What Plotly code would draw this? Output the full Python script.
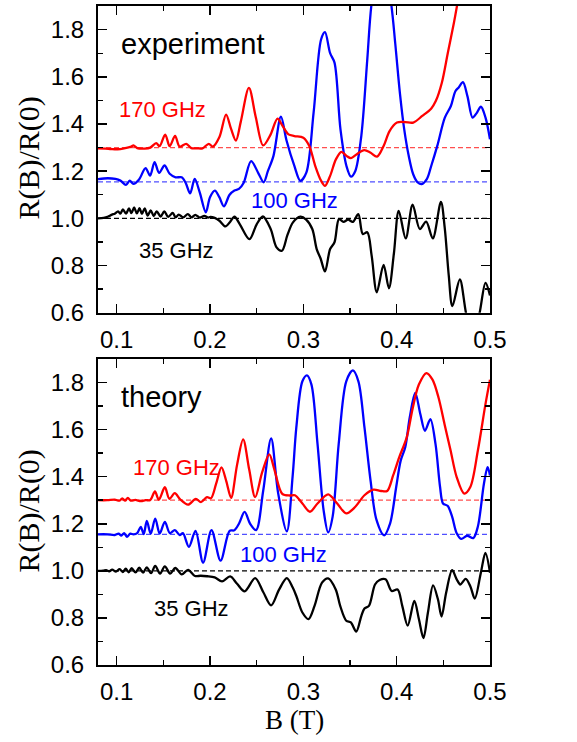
import plotly.graph_objects as go

# ---------------- data ----------------
# experiment, 170 GHz
exp170_b = [0.080,0.088,0.094,0.101,0.108,0.1156,0.118,0.122,0.130,0.136,0.1423,0.146,0.152,0.1568,0.1626,0.1675,0.1745,0.180,0.186,0.192,0.1987,0.203,0.2101,0.2172,0.2225,0.2278,0.233,0.2417,0.2490,0.2569,0.265,0.2723,0.2777,0.2841,0.2904,0.300,0.3064,0.3127,0.3191,0.3232,0.3287,0.335,0.3408,0.3462,0.351,0.3573,0.3653,0.3717,0.379,0.386,0.3924,0.4003,0.409,0.4178,0.4274,0.4369,0.4419,0.4484,0.4548,0.4613,0.4652,0.469]
exp170_r = [1.297,1.296,1.294,1.293,1.297,1.304,1.309,1.298,1.296,1.300,1.319,1.306,1.355,1.306,1.349,1.304,1.316,1.298,1.297,1.297,1.316,1.304,1.345,1.440,1.380,1.330,1.410,1.553,1.430,1.309,1.356,1.423,1.392,1.356,1.349,1.342,1.307,1.223,1.159,1.138,1.180,1.251,1.282,1.265,1.255,1.272,1.289,1.279,1.262,1.307,1.370,1.406,1.408,1.406,1.434,1.465,1.497,1.575,1.701,1.828,1.913,2.000]

# experiment, 100 GHz
exp100_b = [0.080,0.0906,0.0987,0.104,0.110,0.114,0.118,0.124,0.131,0.1358,0.1406,0.1455,0.1513,0.1568,0.1632,0.1697,0.174,0.1787,0.1836,0.189,0.1955,0.200,0.2052,0.210,0.2149,0.221,0.2262,0.231,0.236,0.244,0.252,0.2575,0.262,0.268,0.276,0.282,0.2904,0.2968,0.3032,0.311,0.319,0.3232,0.3287,0.3334,0.3398,0.3462,0.351,0.3557,0.3621,0.3685,0.3732,0.3834,0.394,0.3985,0.4035,0.4081,0.4129,0.4177,0.4226,0.4268,0.4323,0.4371,0.4435,0.4516,0.4581,0.4629,0.4665,0.471,0.4758,0.4813,0.4855,0.4903,0.4952,0.500]
exp100_r = [1.166,1.170,1.167,1.160,1.142,1.160,1.146,1.165,1.213,1.181,1.238,1.193,1.224,1.189,1.174,1.174,1.150,1.106,1.167,1.110,1.026,1.090,1.118,1.090,1.051,1.100,1.118,1.125,1.150,1.243,1.190,1.153,1.200,1.265,1.431,1.330,1.222,1.159,1.194,1.448,1.758,1.789,1.700,1.660,1.377,1.222,1.177,1.201,1.349,1.673,1.913,2.150,1.913,1.740,1.530,1.377,1.265,1.187,1.152,1.145,1.166,1.223,1.307,1.427,1.476,1.539,1.555,1.577,1.518,1.427,1.445,1.473,1.427,1.335]

# experiment, 35 GHz
exp35_b = [0.080,0.086,0.091,0.095,0.098,0.1015,0.104,0.1067,0.110,0.1132,0.1158,0.1187,0.1216,0.1245,0.1271,0.130,0.1332,0.1365,0.1397,0.1429,0.1471,0.151,0.1552,0.160,0.1632,0.1665,0.1713,0.1762,0.1803,0.1842,0.189,0.1939,0.198,0.2004,0.205,0.2101,0.2165,0.2215,0.2262,0.232,0.2423,0.250,0.2567,0.265,0.2713,0.2771,0.2830,0.2889,0.2968,0.303,0.3096,0.3143,0.3185,0.3232,0.3287,0.3334,0.3382,0.343,0.348,0.353,0.3589,0.3637,0.3685,0.3732,0.3787,0.386,0.3917,0.397,0.4022,0.4097,0.4171,0.4248,0.4316,0.4387,0.4474,0.4515,0.4558,0.4597,0.4677,0.4748,0.482,0.4887,0.4952,0.500]
exp35_r = [1.000,1.002,1.008,1.016,1.020,1.030,1.020,1.038,1.020,1.042,1.022,1.046,1.021,1.043,1.019,1.042,1.012,1.034,1.010,1.030,1.008,1.030,1.006,1.023,1.004,1.016,1.004,1.018,1.004,1.015,1.003,1.011,1.003,1.006,1.002,0.990,0.966,0.985,1.007,0.975,0.912,0.975,1.008,0.955,0.877,0.863,0.930,0.983,1.007,0.995,0.955,0.870,0.830,0.775,0.870,0.899,0.997,0.985,0.995,0.985,1.018,0.934,0.941,0.842,0.687,0.803,0.704,0.850,1.032,0.915,1.058,0.955,0.986,0.915,1.070,0.960,0.758,0.628,0.741,0.589,0.500,0.596,0.727,0.673]

# theory, 170 GHz
th170_b = [0.080,0.090,0.098,0.103,0.106,0.109,0.112,0.115,0.120,0.126,0.131,0.136,0.141,0.1452,0.1516,0.1565,0.1623,0.168,0.1765,0.1848,0.1903,0.1968,0.201,0.2065,0.2123,0.2175,0.2226,0.229,0.2355,0.242,0.2484,0.256,0.2635,0.269,0.2774,0.2855,0.291,0.299,0.3071,0.3152,0.3266,0.3363,0.346,0.3557,0.3655,0.3752,0.3833,0.3898,0.3962,0.4027,0.4108,0.4173,0.4238,0.4319,0.4384,0.4449,0.4513,0.4578,0.4643,0.4724,0.4789,0.487,0.4951,0.500]
th170_r = [1.300,1.300,1.302,1.298,1.308,1.298,1.310,1.298,1.301,1.296,1.300,1.301,1.337,1.302,1.355,1.306,1.330,1.304,1.281,1.306,1.292,1.313,1.308,1.369,1.439,1.380,1.310,1.450,1.558,1.430,1.313,1.420,1.495,1.430,1.327,1.320,1.321,1.286,1.251,1.286,1.325,1.286,1.244,1.272,1.321,1.345,1.339,1.339,1.405,1.482,1.567,1.693,1.791,1.840,1.812,1.735,1.623,1.511,1.398,1.328,1.356,1.511,1.707,1.812]

# theory, 100 GHz
th100_b = [0.080,0.090,0.098,0.102,0.105,0.108,0.111,0.1145,0.118,0.122,0.1258,0.129,0.1323,0.1365,0.1413,0.1461,0.1516,0.157,0.1623,0.1675,0.171,0.1774,0.1845,0.1926,0.2016,0.2113,0.221,0.226,0.231,0.2371,0.243,0.2494,0.257,0.2655,0.273,0.2823,0.2885,0.2925,0.299,0.3039,0.3087,0.3152,0.3217,0.3266,0.3314,0.3379,0.346,0.3531,0.359,0.3655,0.372,0.3784,0.3865,0.393,0.3995,0.4043,0.4092,0.414,0.4199,0.4254,0.4303,0.4361,0.4416,0.4465,0.4497,0.4546,0.4594,0.4643,0.4692,0.4756,0.4821,0.487,0.4935,0.4974,0.500]
th100_r = [1.155,1.155,1.152,1.158,1.150,1.160,1.144,1.158,1.155,1.160,1.187,1.156,1.212,1.158,1.222,1.158,1.208,1.160,1.173,1.152,1.160,1.102,1.170,1.035,1.173,1.043,1.170,1.172,1.200,1.250,1.200,1.173,1.340,1.562,1.330,1.168,1.400,1.609,1.805,1.830,1.791,1.539,1.258,1.163,1.230,1.539,1.805,1.851,1.805,1.609,1.384,1.216,1.151,1.202,1.356,1.468,1.525,1.651,1.756,1.665,1.595,1.644,1.539,1.356,1.286,1.276,1.230,1.160,1.136,1.149,1.139,1.188,1.370,1.440,1.405]

# theory, 35 GHz
th35_b = [0.080,0.0855,0.0887,0.092,0.0952,0.0992,0.1032,0.1065,0.1097,0.1129,0.1161,0.1202,0.1242,0.1283,0.1323,0.1368,0.1413,0.1465,0.1516,0.1573,0.1629,0.1697,0.1765,0.1839,0.190,0.197,0.205,0.2129,0.2216,0.229,0.2371,0.2484,0.257,0.2655,0.274,0.2823,0.2885,0.2925,0.299,0.3055,0.312,0.320,0.3266,0.3347,0.3395,0.346,0.3509,0.3567,0.3622,0.3655,0.3703,0.3768,0.3817,0.3881,0.3946,0.401,0.406,0.4118,0.4189,0.4238,0.4287,0.4335,0.439,0.4442,0.4481,0.453,0.4594,0.4643,0.4682,0.474,0.4789,0.4837,0.4902,0.4951,0.500]
th35_r = [1.000,1.001,1.003,0.998,1.005,0.997,1.007,0.995,1.009,0.994,1.011,0.993,1.013,0.992,1.015,0.990,1.021,0.988,1.019,0.988,1.012,0.985,1.004,0.978,0.979,0.977,0.972,0.955,0.976,0.945,0.913,0.969,0.910,0.853,0.920,0.969,0.930,0.893,0.823,0.795,0.851,0.950,0.968,0.921,0.851,0.788,0.781,0.742,0.809,0.840,0.851,0.942,0.961,0.964,0.914,0.921,0.851,0.767,0.872,0.795,0.714,0.823,0.938,0.879,0.806,0.907,1.003,0.964,0.942,0.966,0.935,0.882,0.992,1.076,0.992]

# reference levels R(0) offsets
base_levels = [1.30, 1.155, 1.0]
base_colors = ["rgba(255,60,60,0.9)", "rgba(60,60,255,0.9)", "black"]

x_range = [0.08, 0.5]
y_range = [0.6, 1.9]
x_ticks = [0.1, 0.2, 0.3, 0.4, 0.5]
y_ticks = [0.6, 0.8, 1.0, 1.2, 1.4, 1.6, 1.8]

panel_labels = ["experiment", "theory"]
freq_labels = ["170 GHz", "100 GHz", "35 GHz"]

# ---------------- figure ----------------
fig = go.Figure()

RED = "#ff0000"
BLUE = "#0000ff"
BLACK = "#000000"

panels = [
    ("x2", "y2", [(exp35_b, exp35_r, BLACK), (exp100_b, exp100_r, BLUE), (exp170_b, exp170_r, RED)]),
    ("x", "y", [(th35_b, th35_r, BLACK), (th100_b, th100_r, BLUE), (th170_b, th170_r, RED)]),
]

for xa, ya, curves in panels:
    for lvl, col in zip(base_levels, base_colors):
        fig.add_trace(go.Scatter(x=x_range, y=[lvl, lvl], mode="lines", xaxis=xa, yaxis=ya,
                                 line=dict(color=col, width=1.2, dash="5px,3px"),
                                 showlegend=False, hoverinfo="skip"))
    for bx, by, col in curves:
        fig.add_trace(go.Scatter(x=bx, y=by, mode="lines", xaxis=xa, yaxis=ya,
                                 line=dict(color=col, width=2.3, shape="spline", smoothing=0.9),
                                 showlegend=False))

W, H = 577, 742
ml, mr, mt, mb = 98, 87, 4, 77
ph = H - mt - mb

tick_font = dict(family="Liberation Sans, Arial, sans-serif", size=24, color="black")

def xax(anchor):
    return dict(range=x_range, tickvals=x_ticks, tickformat=".1f", ticks="inside", ticklen=9,
                tickwidth=1.6, tickcolor="black", showline=True, linewidth=2, linecolor="black",
                mirror="ticks", showgrid=False, zeroline=False, anchor=anchor,
                tickfont=tick_font, ticklabelstandoff=4,
                minor=dict(dtick=0.05, tick0=0.0, ticks="inside", ticklen=5, tickwidth=1.4,
                           tickcolor="black", showgrid=False))

def yax(domain, anchor):
    return dict(range=y_range, tickvals=y_ticks, tickformat=".1f", ticks="inside", ticklen=9,
                tickwidth=1.6, tickcolor="black", showline=True, linewidth=2, linecolor="black",
                mirror="ticks", showgrid=False, zeroline=False, anchor=anchor, domain=domain,
                tickfont=tick_font, ticklabelstandoff=7,
                minor=dict(dtick=0.1, tick0=0.0, ticks="inside", ticklen=5, tickwidth=1.4,
                           tickcolor="black", showgrid=False))

top_lo = (H - 311.7 - mb) / ph
bot_hi = (H - 358 - mb) / ph

fig.update_layout(
    width=W, height=H,
    margin=dict(l=ml, r=mr, t=mt, b=mb),
    paper_bgcolor="white", plot_bgcolor="white",
    xaxis=xax("y"),
    yaxis=yax([0, bot_hi], "x"),
    xaxis2=xax("y2"),
    yaxis2=yax([top_lo, 1], "x2"),
    showlegend=False,
    hovermode=False,
)

ann_font = "Liberation Sans, Arial, sans-serif"
serif = "Liberation Serif, Times New Roman, serif"

annots = []
# panel labels
annots.append(dict(x=0.1026, y=1.74, xref="x2", yref="y2", text=panel_labels[0], showarrow=False,
                   xanchor="left", yanchor="middle", font=dict(family=ann_font, size=29, color=BLACK)))
annots.append(dict(x=0.1026, y=1.74, xref="x", yref="y", text=panel_labels[1], showarrow=False,
                   xanchor="left", yanchor="middle", font=dict(family=ann_font, size=29, color=BLACK)))
# frequency labels - experiment
for (xx, yy, t, c) in [(0.100, 1.463, freq_labels[0], RED), (0.242, 1.075, freq_labels[1], BLUE),
                       (0.122, 0.865, freq_labels[2], BLACK)]:
    annots.append(dict(x=xx, y=yy, xref="x2", yref="y2", text=t, showarrow=False, xanchor="left",
                       yanchor="middle", font=dict(family=ann_font, size=22, color=c)))
# frequency labels - theory
for (xx, yy, t, c) in [(0.1156, 1.44, freq_labels[0], RED), (0.230, 1.07, freq_labels[1], BLUE),
                       (0.138, 0.839, freq_labels[2], BLACK)]:
    annots.append(dict(x=xx, y=yy, xref="x", yref="y", text=t, showarrow=False, xanchor="left",
                       yanchor="middle", font=dict(family=ann_font, size=22, color=c)))

# axis titles
def px_to_paper_x(px):
    return (px - ml) / (W - ml - mr)

def py_to_paper_y(py):
    return (H - mb - py) / ph

for cy in [157, 511]:
    annots.append(dict(x=px_to_paper_x(29), y=py_to_paper_y(cy), xref="paper", yref="paper",
                       text="R(B)/R(0)", textangle=-90, showarrow=False, xanchor="center",
                       yanchor="middle", font=dict(family=serif, size=30, color=BLACK)))
annots.append(dict(x=0.5, y=py_to_paper_y(720), xref="paper", yref="paper", text="B (T)",
                   showarrow=False, xanchor="center", yanchor="middle",
                   font=dict(family=serif, size=27, color=BLACK)))

fig.update_layout(annotations=annots)

# remove the default page margin so the figure sits at the window's top-left corner
fig.write_html("out.html",
               config={"displayModeBar": False, "staticPlot": True},
               post_script="document.body.style.margin='0px';document.documentElement.style.margin='0px';")
